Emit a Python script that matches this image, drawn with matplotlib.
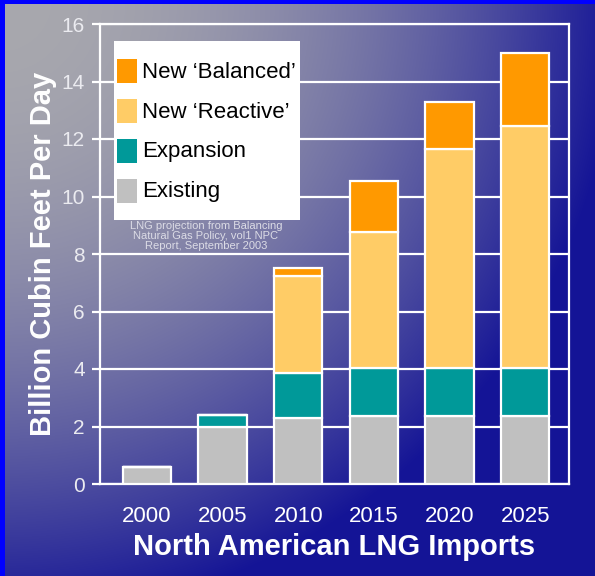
import numpy as np
import matplotlib
matplotlib.use("Agg")
import matplotlib.pyplot as plt
from matplotlib.patches import Rectangle

plt.rcParams['font.family'] = ['Liberation Sans', 'DejaVu Sans']

years = ["2000", "2005", "2010", "2015", "2020", "2025"]
series_names = ["Existing", "Expansion", "New \u2018Reactive\u2019", "New \u2018Balanced\u2019"]
existing = [0.6, 2.0, 2.3, 2.35, 2.35, 2.35]
expansion = [0.0, 0.4, 1.55, 1.7, 1.7, 1.7]
reactive = [0.0, 0.0, 3.4, 4.7, 7.6, 8.4]
balanced = [0.0, 0.0, 0.25, 1.8, 1.65, 2.55]
colors = ["#C0C0C0", "#009999", "#FFCC66", "#FF9900"]
yticks = [0, 2, 4, 6, 8, 10, 12, 14, 16]

W, H = 595, 576
fig = plt.figure(figsize=(W / 100, H / 100), dpi=100)

# background gradient
yy, xx = np.mgrid[0:H, 0:W]
r = np.sqrt(xx ** 2 + yy ** 2)
t = np.clip((r / 620.0) ** 2, 0, 1)
c0 = np.array([168, 168, 174]) / 255.0
c1 = np.array([20, 20, 150]) / 255.0
img = c0[None, None, :] * (1 - t[..., None]) + c1[None, None, :] * t[..., None]
bg = fig.add_axes([0, 0, 1, 1], zorder=0)
bg.imshow(img, aspect='auto', extent=[0, W, H, 0], interpolation='bilinear')
bg.set_xlim(0, W)
bg.set_ylim(H, 0)
bg.axis('off')
bg.add_patch(Rectangle((0, 0), W, 4, color='#0000FF', lw=0))
bg.add_patch(Rectangle((0, 0), 5, H, color='#0000FF', lw=0))

ax = fig.add_axes([100 / W, (H - 484) / H, 469 / W, 460 / H], zorder=1)
ax.set_facecolor('none')
x = np.arange(len(years))
bottom = np.zeros(len(years))
for vals, col in zip([existing, expansion, reactive, balanced], colors):
    v = np.array(vals)
    ax.bar(x, v, bottom=bottom, width=0.64, color=col, edgecolor='white',
           linewidth=1.6, zorder=3)
    bottom += v

ax.set_xlim(-0.62, 5.58)
ax.set_ylim(0, 16)
ax.set_yticks(yticks)
ax.set_yticklabels([str(v) for v in yticks])
ax.set_xticks(x)
ax.set_xticklabels(years)
ax.grid(axis='y', color='white', linewidth=1.6, zorder=1)
ax.set_axisbelow(True)
for s in ax.spines.values():
    s.set_color('white')
    s.set_linewidth(1.6)
ax.tick_params(axis='y', colors='white', labelcolor='#EBEBF0', labelsize=15,
               length=6, width=1.6, pad=5)
ax.tick_params(axis='x', length=0, labelcolor='white', labelsize=16, pad=16)
ax.set_xlabel("North American LNG Imports", fontsize=21, fontweight='bold',
              color='white', labelpad=4)
ax.set_ylabel("Billion Cubin Feet Per Day", fontsize=21, fontweight='bold',
              color='white', labelpad=3)

# legend overlay (pixel coords)
ov = fig.add_axes([0, 0, 1, 1], zorder=2)
ov.set_xlim(0, W)
ov.set_ylim(H, 0)
ov.axis('off')
ov.patch.set_alpha(0)
ov.add_patch(Rectangle((114, 41), 186, 179, facecolor='white', edgecolor='none', zorder=5))
leg_order = [3, 2, 1, 0]
for i, k in enumerate(leg_order):
    cy = 71 + 40 * i
    ov.add_patch(Rectangle((117, cy - 12), 20, 24, facecolor=colors[k],
                           edgecolor='none', zorder=6))
    ov.text(142, cy + 1, series_names[k], fontsize=16, color='black',
            va='center', ha='left', zorder=7)

ov.text(206, 236, "LNG projection from Balancing\nNatural Gas Policy, vol1 NPC\nReport, September 2003",
        fontsize=8, color='#DCDCE6', ha='center', va='center', linespacing=0.95, zorder=7)

fig.savefig("out.png", dpi=100)
